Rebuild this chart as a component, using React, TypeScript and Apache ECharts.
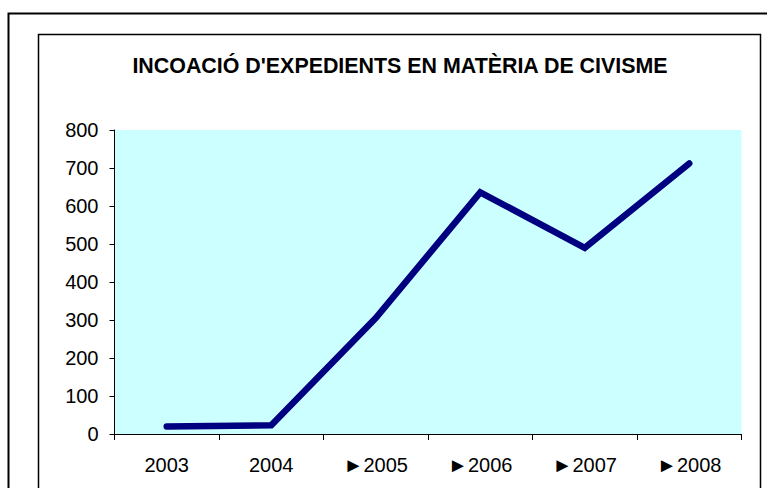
import React, { useEffect, useRef } from "react";
import * as echarts from "echarts";

const titleText = "INCOACIÓ D'EXPEDIENTS EN MATÈRIA DE CIVISME";
const categories = ["2003", "2004", "►2005", "►2006", "►2007", "►2008"];
const values = [20, 23, 305, 636, 490, 712];
const yTicks = { min: 0, max: 800, interval: 100 };

const FONT = "'Liberation Sans', Arial, sans-serif";

export default function App() {
  const ref = useRef<HTMLDivElement>(null);
  useEffect(() => {
    const chart = echarts.init(ref.current!, null, { renderer: "svg" });
    chart.setOption({
      animation: false,
      backgroundColor: "#ffffff",
      textStyle: { fontFamily: FONT },
      title: {
        text: titleText,
        left: 395,
        top: 50,
        textAlign: "center",
        textStyle: { fontSize: 21.4, fontWeight: "bold", color: "#000", fontFamily: FONT },
      },
      graphic: [
        { type: "rect", shape: { x: 8.5, y: 13.5, width: 900, height: 600 }, style: { fill: "none", stroke: "#000", lineWidth: 2 } },
        { type: "rect", shape: { x: 38.5, y: 34.5, width: 722, height: 600 }, style: { fill: "none", stroke: "#000", lineWidth: 1.5 } },
      ],
      grid: {
        left: 114.5,
        top: 130,
        right: 25.5,
        bottom: 54,
        show: true,
        backgroundColor: "#CCFFFF",
        borderWidth: 0,
      },
      xAxis: {
        type: "category",
        data: categories,
        boundaryGap: true,
        axisLine: { lineStyle: { color: "#000", width: 1 } },
        axisTick: { show: true, length: 6, inside: false, lineStyle: { color: "#000" } },
        axisLabel: { color: "#000", fontSize: 20, margin: 21, interval: 0, fontFamily: FONT },
        splitLine: { show: false },
      },
      yAxis: {
        type: "value",
        min: yTicks.min,
        max: yTicks.max,
        interval: yTicks.interval,
        axisLine: { show: true, lineStyle: { color: "#000", width: 1 } },
        axisTick: { show: true, length: 5, inside: false, lineStyle: { color: "#000" } },
        axisLabel: { color: "#000", fontSize: 20, margin: 16, fontFamily: FONT },
        splitLine: { show: false },
      },
      series: [
        {
          type: "line",
          data: values,
          symbol: "none",
          lineStyle: { color: "#000080", width: 6.5, cap: "round", join: "miter" },
          itemStyle: { color: "#000080" },
        },
      ],
    });
    return () => chart.dispose();
  }, []);
  return <div ref={ref} style={{ position: "fixed", left: 0, top: 0, width: 767, height: 488 }} />;
}
